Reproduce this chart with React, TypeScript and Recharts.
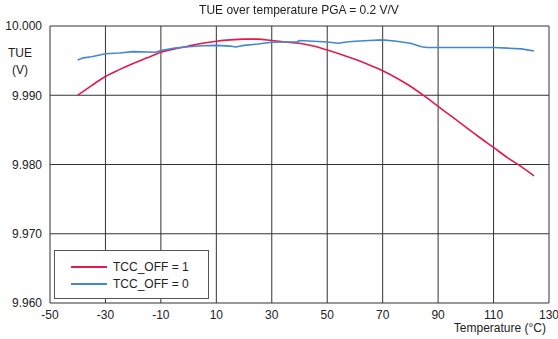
import React from 'react';
import {
  LineChart,
  Line,
  XAxis,
  YAxis,
  CartesianGrid,
} from 'recharts';

const X_TICKS = [-50, -30, -10, 10, 30, 50, 70, 90, 110, 130];
const Y_TICKS = [9.96, 9.97, 9.98, 9.99, 10.0];

// TCC_OFF = 1 (red)
const tempOn = [
  -40, -35, -30, -25, -20, -15, -10, -5, 0, 5, 10, 15, 20, 25, 30, 35, 40, 45,
  50, 55, 60, 65, 70, 75, 80, 85, 90, 95, 100, 105, 110, 115, 120, 124.6,
];
const tueOn = [
  9.99, 9.9914, 9.9927, 9.9937, 9.9946, 9.9954, 9.9962, 9.9967, 9.9971,
  9.9975, 9.9978, 9.998, 9.9981, 9.9981, 9.9979, 9.9977, 9.9975, 9.9971,
  9.99653, 9.9959, 9.9952, 9.9944, 9.99354, 9.9925, 9.9913, 9.9899, 9.9884,
  9.9869, 9.9854, 9.9839, 9.98246, 9.981, 9.9797, 9.97836,
];

// TCC_OFF = 0 (blue)
const tempOff = [
  -40, -38, -35, -30, -25, -20, -15, -12, -10, -5, 0, 5, 10, 15, 17, 20, 25,
  30, 35, 39, 40, 45, 50, 54, 57, 60, 65, 70, 75, 80, 84, 86, 90, 100, 110,
  115, 120, 124.6,
];
const tueOff = [
  9.9951, 9.9954, 9.99555, 9.996, 9.9961, 9.9963, 9.99625, 9.9962, 9.99645,
  9.9968, 9.997, 9.99715, 9.9972, 9.9971, 9.99696, 9.9972, 9.9974, 9.99765,
  9.9977, 9.9977, 9.9979, 9.9978, 9.9977, 9.9975, 9.9977, 9.9978, 9.9979,
  9.998, 9.9978, 9.9975, 9.997, 9.9969, 9.9969, 9.9969, 9.9969, 9.9968,
  9.9967, 9.9964,
];

const RED = '#e5194d';
const BLUE = '#4287d3';
const FONT = '"Liberation Sans", Arial, sans-serif';

const onData = tempOn.map((t, i) => ({ t, v: tueOn[i] }));
const offData = tempOff.map((t, i) => ({ t, v: tueOff[i] }));

function LegendBox() {
  const row = (color: string, label: string) => (
    <div style={{ display: 'flex', alignItems: 'center', height: 17 }}>
      <div style={{ width: 36, height: 2, background: color, marginRight: 6 }} />
      <span>{label}</span>
    </div>
  );
  return (
    <div
      style={{
        position: 'absolute',
        left: 54,
        top: 250,
        border: '1px solid #555',
        background: '#fff',
        width: 155,
        height: 49,
        boxSizing: 'border-box',
        padding: '7px 0 0 16px',
        fontFamily: FONT,
        fontSize: 12,
        color: '#222',
      }}
    >
      {row(RED, 'TCC_OFF = 1')}
      {row(BLUE, 'TCC_OFF = 0')}
    </div>
  );
}

export default function App() {
  const text = { fontFamily: FONT, fontSize: 12, color: '#222', position: 'absolute' as const };
  return (
    <div style={{ position: 'fixed', left: 0, top: 0, width: 558, height: 339, background: '#fff' }}>
      <LineChart
        width={558}
        height={339}
        margin={{ top: 26, right: 9, left: 0, bottom: 0 }}
      >
        <CartesianGrid stroke="#333" strokeWidth={1} />
        <XAxis
          dataKey="t"
          type="number"
          domain={[-50, 130]}
          ticks={X_TICKS}
          height={36}
          axisLine={false}
          tickLine={false}
          tickSize={0}
          tickMargin={7}
          tick={{ fill: '#222', fontSize: 12, fontFamily: FONT }}
          allowDataOverflow
        />
        <YAxis
          type="number"
          domain={[9.96, 10.0]}
          ticks={Y_TICKS}
          width={50}
          axisLine={false}
          tickLine={false}
          tickSize={0}
          tickMargin={8}
          tickFormatter={(v: number) => v.toFixed(3)}
          tick={{ fill: '#222', fontSize: 12, fontFamily: FONT }}
          allowDataOverflow
        />
        <Line
          data={onData}
          dataKey="v"
          name="TCC_OFF = 1"
          type="monotone"
          stroke={RED}
          strokeWidth={1.6}
          dot={false}
          isAnimationActive={false}
        />
        <Line
          data={offData}
          dataKey="v"
          name="TCC_OFF = 0"
          type="linear"
          stroke={BLUE}
          strokeWidth={1.6}
          dot={false}
          isAnimationActive={false}
        />
      </LineChart>
      <LegendBox />
      <div style={{ ...text, left: 0, width: 598, top: 3, textAlign: 'center' }}>
        TUE over temperature PGA = 0.2 V/V
      </div>
      <div style={{ ...text, left: 0, width: 40, top: 45, textAlign: 'center', lineHeight: '17px' }}>
        TUE
        <br />
        (V)
      </div>
      <div style={{ ...text, right: 12, top: 321 }}>Temperature (°C)</div>
    </div>
  );
}
